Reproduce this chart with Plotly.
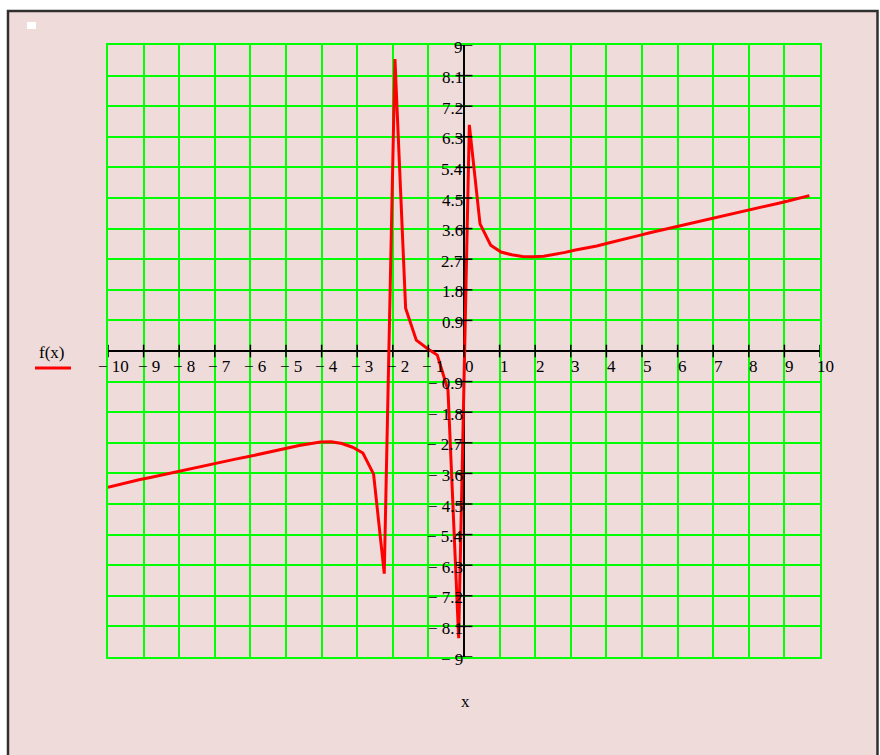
import plotly.graph_objects as go

# ---- data ----
x_vals = [-10.00, -9.70, -9.40, -9.10, -8.81, -8.51, -8.21, -7.91, -7.61, -7.31,
          -7.01, -6.72, -6.42, -6.12, -5.82, -5.52, -5.22, -4.93, -4.63, -4.33,
          -4.03, -3.73, -3.43, -3.13, -2.84, -2.54, -2.24, -1.94, -1.64, -1.34,
          -1.04, -0.75, -0.45, -0.15, 0.15, 0.45, 0.75, 1.04, 1.34, 1.64,
          1.94, 2.24, 2.54, 2.84, 3.13, 3.43, 3.73, 4.03, 4.33, 4.63,
          4.93, 5.22, 5.52, 5.82, 6.12, 6.42, 6.72, 7.01, 7.31, 7.61,
          7.91, 8.21, 8.51, 8.81, 9.10, 9.40, 9.70]
f_vals = [-4.01, -3.93, -3.86, -3.78, -3.72, -3.65, -3.58, -3.51, -3.44, -3.37,
          -3.30, -3.24, -3.18, -3.12, -3.05, -2.98, -2.90, -2.84, -2.78, -2.73,
          -2.68, -2.67, -2.72, -2.83, -3.00, -3.62, -6.55, 8.59, 1.26, 0.32,
          0.08, -0.12, -1.15, -8.45, 6.65, 3.74, 3.11, 2.91, 2.83, 2.78,
          2.77, 2.79, 2.84, 2.90, 2.97, 3.02, 3.09, 3.17, 3.24, 3.32,
          3.40, 3.48, 3.55, 3.63, 3.71, 3.78, 3.84, 3.91, 3.99, 4.06,
          4.12, 4.19, 4.27, 4.34, 4.41, 4.48, 4.57]

x_ticks = [-10, -9, -8, -7, -6, -5, -4, -3, -2, -1, 0, 1, 2, 3, 4, 5, 6, 7, 8, 9, 10]
y_ticks = [-9, -8.1, -7.2, -6.3, -5.4, -4.5, -3.6, -2.7, -1.8, -0.9,
           0.9, 1.8, 2.7, 3.6, 4.5, 5.4, 6.3, 7.2, 8.1, 9]
x_range = [-10, 10]
y_range = [-9, 9]
series_name = "f(x)"
x_title = "x"

# ---- layout geometry (screen pixels; body margin removed via post_script) ----
W, H = 880, 755
L, T = 108, 45
PW, PH = 712, 612
R = W - L - PW
B = H - T - PH


def px(xs):
    return (xs - L) / PW


def py(ys):
    return (T + PH - ys) / PH


def fmt(v):
    s = ("%g" % abs(v))
    return ("\u2212 " + s) if v < 0 else s


FONT = "Liberation Serif, Times New Roman, serif"
FS = 17
PINK = "#F0DBDB"
GREEN = "#00FF00"

fig = go.Figure()

fig.add_trace(go.Scatter(x=x_vals, y=f_vals, mode="lines",
                         line=dict(color="#FF0000", width=3),
                         name=series_name, showlegend=False, hoverinfo="skip"))

# tick marks on the crossed axes
fig.add_trace(go.Scatter(x=x_ticks, y=[0] * len(x_ticks), mode="markers",
                         marker=dict(symbol="line-ns", size=9,
                                     line=dict(color="black", width=1.5)),
                         showlegend=False, hoverinfo="skip", cliponaxis=False))
fig.add_trace(go.Scatter(x=[0] * len(y_ticks), y=y_ticks, mode="markers",
                         marker=dict(symbol="line-ew", size=12,
                                     line=dict(color="black", width=1.5)),
                         showlegend=False, hoverinfo="skip", cliponaxis=False))

annotations = []
for v in x_ticks:
    annotations.append(dict(x=v, y=0, xref="x", yref="y", text=fmt(v),
                            showarrow=False, xanchor="center", yanchor="middle",
                            xshift=5, yshift=-15,
                            font=dict(family=FONT, size=FS, color="black")))
for v in y_ticks:
    annotations.append(dict(x=0, y=v, xref="x", yref="y", text=fmt(v),
                            showarrow=False, xanchor="right", yanchor="middle",
                            xshift=1, yshift=-2,
                            font=dict(family=FONT, size=FS, color="black")))

annotations.append(dict(x=px(51), y=py(352), xref="paper", yref="paper",
                        text=series_name, showarrow=False,
                        xanchor="center", yanchor="middle",
                        font=dict(family=FONT, size=FS, color="black")))
annotations.append(dict(x=px(466), y=py(701), xref="paper", yref="paper",
                        text=x_title, showarrow=False,
                        xanchor="center", yanchor="middle",
                        font=dict(family=FONT, size=FS, color="black")))

shapes = [
    dict(type="rect", xref="paper", yref="paper",
         x0=px(8), x1=px(877.5), y0=py(775), y1=py(11),
         fillcolor=PINK, line=dict(color="#303030", width=2.5), layer="below"),
    dict(type="rect", xref="paper", yref="paper",
         x0=px(27), x1=px(36), y0=py(29), y1=py(22),
         fillcolor="white", line=dict(width=0), layer="below"),
    dict(type="line", xref="paper", yref="paper",
         x0=px(35), x1=px(71), y0=py(368), y1=py(368),
         line=dict(color="#FF0000", width=3)),
]

fig.update_layout(
    width=W, height=H,
    margin=dict(l=L, r=R, t=T, b=B, pad=0),
    paper_bgcolor="white",
    plot_bgcolor=PINK,
    showlegend=False,
    annotations=annotations,
    shapes=shapes,
    xaxis=dict(range=x_range, tickvals=x_ticks, showticklabels=False, ticks="",
               showgrid=True, gridcolor=GREEN, gridwidth=2,
               zeroline=True, zerolinecolor="black", zerolinewidth=2,
               showline=True, linecolor=GREEN, linewidth=2, mirror=True,
               fixedrange=True),
    yaxis=dict(range=y_range, tickvals=y_ticks + [0], showticklabels=False, ticks="",
               showgrid=True, gridcolor=GREEN, gridwidth=2,
               zeroline=True, zerolinecolor="black", zerolinewidth=2,
               showline=True, linecolor=GREEN, linewidth=2, mirror=True,
               fixedrange=True),
)

fig.write_html("out.html",
               config={"displayModeBar": False, "staticPlot": True},
               post_script="document.body.style.margin='0';"
                           "document.body.style.overflow='hidden';")
